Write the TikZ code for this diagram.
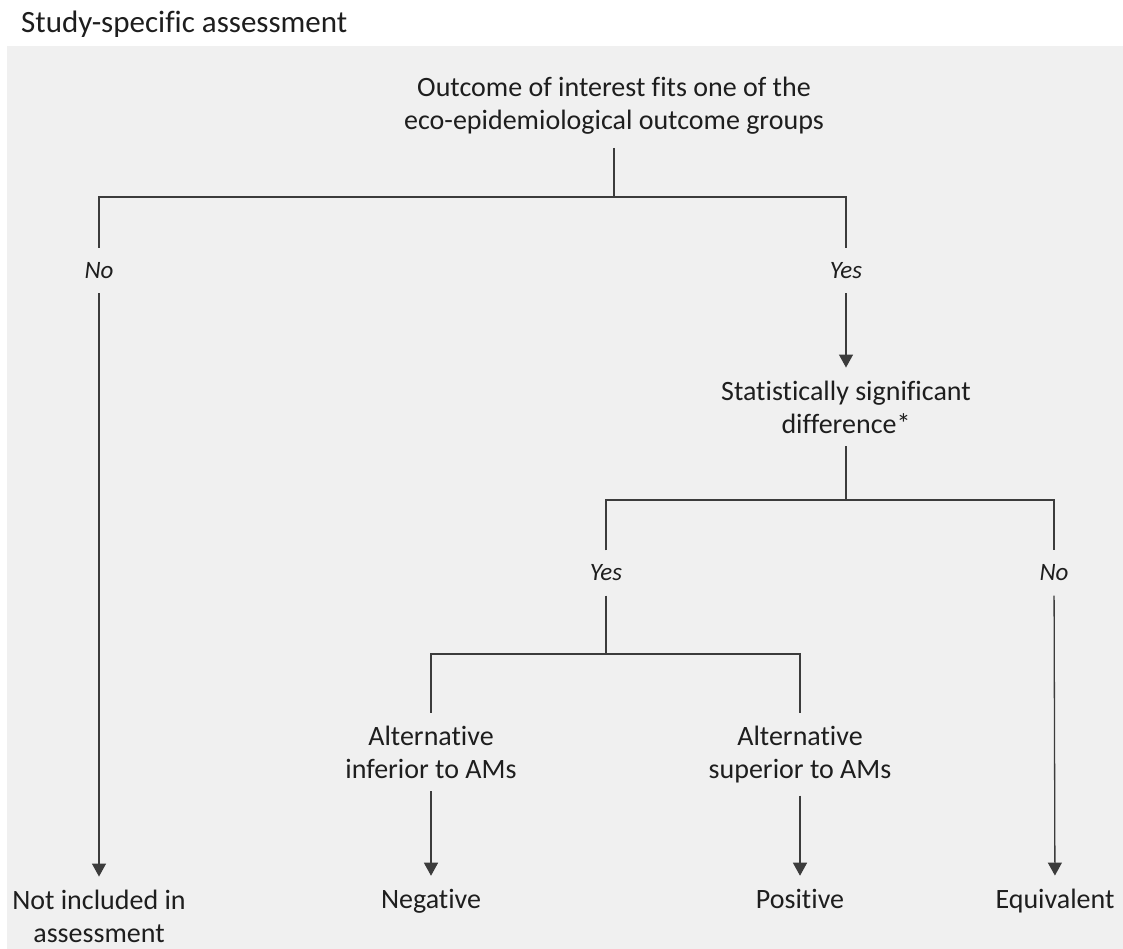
\documentclass[tikz,border=0pt]{standalone}
\usepackage{fontspec}
\setmainfont{Carlito}[Ligatures=NoCommon]
\usepackage{tikz}
\usetikzlibrary{arrows.meta,positioning}
\definecolor{panelgray}{RGB}{240,240,240}
\definecolor{linegray}{RGB}{60,60,60}
\definecolor{textdark}{RGB}{30,30,30}
\tikzset{
  txt/.style={align=center, inner sep=0pt, outer ysep=13pt,
    text=textdark, font=\fontsize{28}{33}\selectfont},
  lab/.style={inner xsep=0pt, inner ysep=0pt, minimum height=45pt,
    text=textdark, font=\itshape\fontsize{25}{29}\selectfont},
  ln/.style={draw=linegray, line width=1.3pt},
  arr/.style={ln, -{Triangle[length=13pt, width=14pt]}},
}

\begin{document}
\begin{tikzpicture}[x=1pt, y=-1pt]
  \useasboundingbox (0,0) rectangle (1123,949);
  \fill[panelgray] (7,46) rectangle (1123,949);

  \node[anchor=base west, inner sep=0pt, text=textdark,
        font=\fontsize{31}{37}\selectfont] (title) at (21,33) {Study-specific assessment};

  % decision nodes
  \node[txt, anchor=base] (outcome) at (614,130) {Outcome of interest fits one of the\\eco-epidemiological outcome groups};
  \node[txt, anchor=base] (signif) at (846,433) {Statistically significant\\difference*};
  \node[txt, anchor=base] (inferior) at (431,778) {Alternative\\inferior to AMs};
  \node[txt, anchor=base] (superior) at (800,778) {Alternative\\superior to AMs};

  % results
  \node[txt, anchor=base] (notincl) at (99,942) {Not included in\\assessment};
  \node[txt, anchor=base] (negative) at (431,908) {Negative};
  \node[txt, anchor=base] (positive) at (800,908) {Positive};
  \node[txt, anchor=base] (equivalent) at (1055,908) {Equivalent};

  % branch labels
  \node[lab] (noA) at (99,270.5) {No};
  \node[lab] (yesA) at (846,270.5) {Yes};
  \node[lab] (yesB) at (606,573) {Yes};
  \node[lab] (noB) at (1054,573) {No};

  \coordinate (j1) at (614,197);
  \coordinate (j2) at (846,500);
  \coordinate (j3) at (606,654);

  \draw[ln] (outcome) -- (j1);
  \draw[ln] (noA) |- (j1) -| (yesA);
  \draw[arr] (noA) -- (notincl);
  \draw[arr] (yesA) -- (signif);

  \draw[ln] (signif) -- (j2);
  \draw[ln] (yesB) |- (j2) -| (noB);
  \draw[arr] (noB) -- (equivalent);

  \draw[ln] (yesB) -- (j3);
  \draw[ln] (inferior) |- (j3) -| (superior);
  \foreach \a/\b in {inferior/negative, superior/positive} {
    \draw[arr] (\a) -- (\b);
  }
\end{tikzpicture}
\end{document}
